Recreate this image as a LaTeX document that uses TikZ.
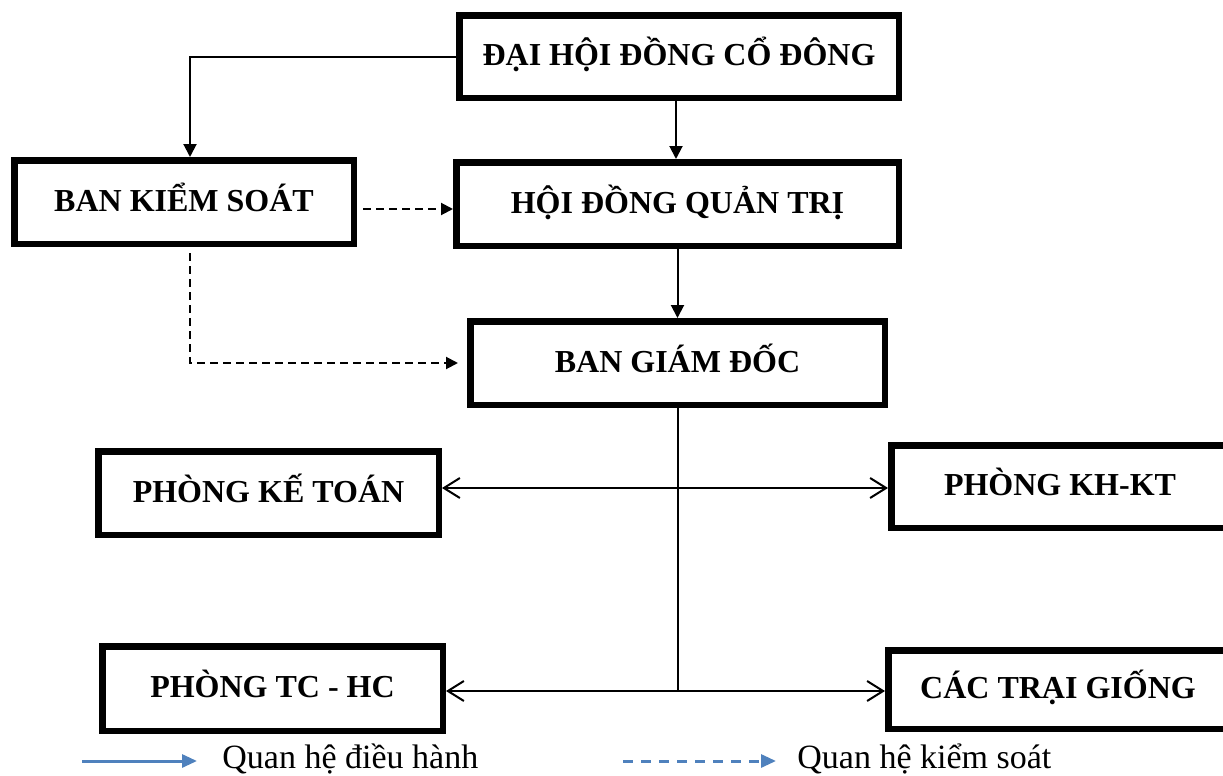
\documentclass[tikz,border=0pt]{standalone}
\usepackage{fontspec}
\setmainfont{Liberation Serif}
\usetikzlibrary{arrows.meta}
\definecolor{legendblue}{RGB}{79,129,189}
\tikzset{
  unit/.style={draw, line width=3.25pt, inner sep=0pt, font=\fontsize{16}{19}\selectfont\bfseries, text height=.91em, text depth=0pt},
  exec/.style={line width=1pt, -{Triangle[length=6.5pt,width=6.5pt]}},
  ctrl/.style={line width=1pt, dash pattern=on 4pt off 2.5pt, -{Triangle[length=6pt,width=6pt]}},
  link/.style={line width=1pt, {Straight Barb[length=8pt,width=10pt,line width=1pt]}-{Straight Barb[length=8pt,width=10pt,line width=1pt]}},
  legend/.style={anchor=base west, inner sep=0pt, font=\fontsize{17}{20}\selectfont}
}
\begin{document}
\begin{tikzpicture}[x=0.5pt,y=-0.5pt]
\useasboundingbox (0,0) rectangle (1223,776);
% boxes
\node[unit, minimum width=219.75pt, minimum height=41.25pt] (dhcd) at (679,56.5) {ĐẠI HỘI ĐỒNG CỔ ĐÔNG};
\node[unit, minimum width=169.75pt, minimum height=41.75pt] (bks) at (184,202) {BAN KIỂM SOÁT};
\node[unit, minimum width=221.25pt, minimum height=41.75pt] (hdqt) at (677.5,204) {HỘI ĐỒNG QUẢN TRỊ};
\node[unit, minimum width=207.25pt, minimum height=41.75pt] (bgd) at (677.5,363) {BAN GIÁM ĐỐC};
\node[unit, minimum width=170.25pt, minimum height=41.75pt] (pkt) at (268.5,493) {PHÒNG KẾ TOÁN};
\node[unit, minimum width=168.75pt, minimum height=41.25pt] (pkhkt) at (1060,486.5) {PHÒNG KH-KT};
\node[unit, minimum width=170.25pt, minimum height=42.25pt] (ptchc) at (272.5,688.5) {PHÒNG TC - HC};
\node[unit, minimum width=169.75pt, minimum height=39.25pt] (ctg) at (1058,689.5) {CÁC TRẠI GIỐNG};
% arrows
\draw[exec] (dhcd.west) -| ([xshift=3pt]bks.north);
\draw[exec] ([xshift=-1.5pt]dhcd.south) -- ([xshift=-1.5pt]dhcd.south |- hdqt.north);
\draw[exec] (hdqt.south) -- (hdqt.south |- bgd.north);
\draw[ctrl, shorten <=3pt] ([yshift=-3.5pt]bks.east) -- ([yshift=-3.5pt]bks.east -| hdqt.west);
\draw[ctrl, shorten >=4.5pt] ([xshift=3pt,yshift=-3pt]bks.south) |- (bgd.west);
\coordinate (r1) at (677.5,488);
\coordinate (r2) at (677.5,691);
\draw[line width=1pt] (bgd.south) -- (r2);
\draw[link] (r1 -| pkt.east) -- (r1 -| pkhkt.west);
\draw[link] (r2 -| ptchc.east) -- (r2 -| ctg.west);
% legend
\node[legend] (lgexec) at (222,768) {Quan hệ điều hành};
\node[legend] (lgctrl) at (797,768) {Quan hệ kiểm soát};
\coordinate (l1) at (82,761);
\coordinate (l2) at (623,761);
\draw[legendblue, line width=1.5pt, shorten >=12.5pt, -{Triangle[length=7.5pt,width=6.5pt]}] (l1) -- (l1 -| lgexec.west);
\draw[legendblue, line width=1.5pt, shorten >=10.5pt, dash pattern=on 5pt off 4pt, -{Triangle[length=7.5pt,width=6.5pt]}] (l2) -- (l2 -| lgctrl.west);
\end{tikzpicture}
\end{document}
